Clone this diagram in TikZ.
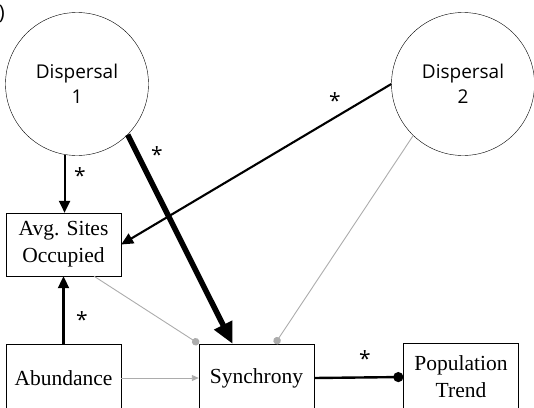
\documentclass[tikz,border=0pt]{standalone}
\usepackage{fontspec}
\setmainfont{Liberation Serif}
\newfontfamily\circfont{Open Sans}
\usetikzlibrary{arrows.meta}

\tikzset{
  latent/.style={draw, circle, minimum size=143pt, inner sep=0pt, align=center, font=\circfont\fontsize{19}{25}\selectfont},
  observed/.style={draw, rectangle, minimum width=115pt, inner sep=0pt, align=center, font=\fontsize{21.5}{27}\selectfont},
  sig/.style={font=\circfont\fontsize{21}{24}\selectfont},
  strong/.style={line width=2.1pt, -{Triangle[length=12pt, width=11pt]}},
  heavy/.style={line width=5.5pt, -{Triangle[length=21pt, width=19pt]}},
  weak/.style={draw=gray!65, line width=0.9pt},
}

\begin{document}
\begin{tikzpicture}[x=1pt, y=-1pt]
  \useasboundingbox (0,0) rectangle (534,407);

  % partly cut panel label
  \node[font=\circfont\fontsize{20}{24}\selectfont, anchor=east, inner sep=0pt] (panel) at (5,14) {)};

  % circles
  \node[latent] (disp1) at (77,84) {Dispersal\\1};
  \node[latent] (disp2) at (463,84) {Dispersal\\2};

  % boxes
  \node[observed, minimum height=63pt] (sites) at (63.5,244.5) {Avg. Sites\\Occupied};
  \node[observed, minimum height=68pt] (abund) at (63.5,378) {Abundance};
  \node[observed, minimum height=68pt] (sync) at (256.5,378) {Synchrony};
  \node[observed, minimum height=68pt] (trend) at (461,377) {Population\\Trend};

  % significant paths
  \draw[strong] (disp1.260) -- (disp1.260 |- sites.north);
  \draw[strong] (abund.north) -- (sites.south);
  \draw[heavy] (disp1.315) -- ([xshift=-24pt]sync.north);
  \draw[strong] (disp2.west) -- (sites.east);
  \draw[line width=2.4pt, -{Circle[length=10pt]}] (sync.east) -- (trend.west);

  % non-significant paths
  \draw[weak, -{Circle[length=7.5pt]}] ([xshift=30.5pt]sites.south) -- (sync.north west);
  \draw[weak, -{Circle[length=7.5pt]}] (disp2.226) -- ([xshift=18.5pt]sync.north);
  \draw[weak, -{Triangle[length=7pt, width=6pt]}] (abund.east) -- (sync.west);

  % asterisks
  \node[sig] (s1) at (80,176) {*};
  \node[sig] (s2) at (82,320) {*};
  \node[sig] (s3) at (157,155) {*};
  \node[sig] (s4) at (335,101) {*};
  \node[sig] (s5) at (365,359) {*};
\end{tikzpicture}
\end{document}
